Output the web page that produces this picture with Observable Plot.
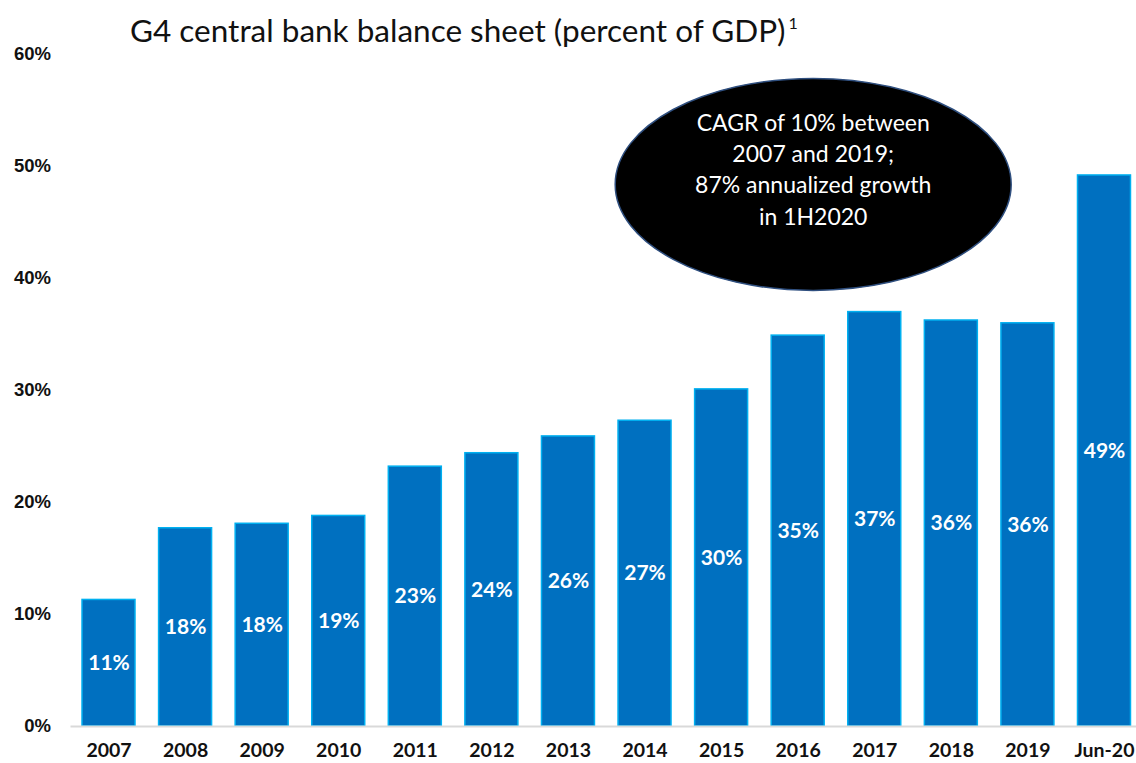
<!DOCTYPE html>
<html>
<head>
<meta charset="utf-8">
<script src="https://cdn.jsdelivr.net/npm/d3@7"></script>
<script src="https://cdn.jsdelivr.net/npm/@observablehq/plot@0.6"></script>
<style>
  html, body { margin: 0; padding: 0; background: #fff; }
  #wrap { position: relative; width: 1136px; height: 763px; }
  #title { position: absolute; left: 130px; top: 15px; font-family: Lato, "Open Sans", sans-serif; font-size: 31.5px; line-height: 1; color: #111; white-space: nowrap; }
  #title sup { font-size: 16px; vertical-align: 0; position: relative; top: -13px; margin-left: 3px; }
</style>
</head>
<body>
<div id="wrap">
  <div id="title">G4 central bank balance sheet (percent of GDP)<sup>1</sup></div>
</div>
<script>
const categories = ["2007","2008","2009","2010","2011","2012","2013","2014","2015","2016","2017","2018","2019","Jun-20"];
const values = [11.3, 17.7, 18.1, 18.8, 23.2, 24.4, 25.9, 27.3, 30.1, 34.9, 37.0, 36.25, 36.0, 49.2];
const barLabels = ["11%","18%","18%","19%","23%","24%","26%","27%","30%","35%","37%","36%","36%","49%"];
const yTicks = [0, 10, 20, 30, 40, 50, 60];
const yTickLabels = ["0%","10%","20%","30%","40%","50%","60%"];
const noteLines = ["CAGR of 10% between", "2007 and 2019;", "87% annualized growth", "in 1H2020"];

const data = categories.map((c, i) => ({cat: c, value: values[i], label: barLabels[i]}));

// ellipse-shaped symbol for the callout (drawn with bezier curves)
const ellipseSymbol = {
  draw(ctx) {
    const rx = 198, ry = 106, k = 0.5523;
    ctx.moveTo(rx, 0);
    ctx.bezierCurveTo(rx, ry * k, rx * k, ry, 0, ry);
    ctx.bezierCurveTo(-rx * k, ry, -rx, ry * k, -rx, 0);
    ctx.bezierCurveTo(-rx, -ry * k, -rx * k, -ry, 0, -ry);
    ctx.bezierCurveTo(rx * k, -ry, rx, -ry * k, rx, 0);
    ctx.closePath();
  }
};

const chart = Plot.plot({
  width: 1136,
  height: 763,
  marginLeft: 76.5,
  marginRight: 0,
  marginTop: 54,
  marginBottom: 37,
  style: {fontFamily: "Lato, sans-serif", color: "#111", background: "transparent"},
  x: {domain: categories, paddingInner: 0.308, paddingOuter: 0.072, round: false, label: null},
  y: {domain: [0, 60], label: null},
  marks: [
    Plot.barY(data, {x: "cat", y: "value", fill: "#0070c0", stroke: "#00b0f0", strokeWidth: 1.5}),
    Plot.ruleY([0], {stroke: "#d9d9d9", strokeWidth: 2, insetLeft: -6}),
    Plot.text(data, {x: "cat", y: d => d.value / 2, text: "label", fill: "white", fontSize: 21, fontWeight: "bold", fontFamily: "Lato, sans-serif"}),
    Plot.axisX({tickSize: 0, tickPadding: 17, fontSize: 19.5, fontWeight: "bold", fontFamily: "Lato, sans-serif", label: null}),
    Plot.axisY({ticks: yTicks, tickFormat: (d, i) => yTickLabels[i], tickSize: 0, tickPadding: 26, fontSize: 18.5, fontWeight: "bold", fontFamily: "'Liberation Sans', Arial, sans-serif", label: null}),
    Plot.dot([{cat: "2016", v: 48.4}], {x: "cat", y: "v", dx: 15, symbol: ellipseSymbol, r: 10, fill: "black", stroke: "#2f4f7f", strokeWidth: 1.5}),
    Plot.text([noteLines.join("\n")], {x: () => "2016", y: () => 49.9, dx: 15, text: d => d, fill: "white", fontSize: 23, lineHeight: 1.36, fontFamily: "Lato, sans-serif"})
  ]
});
document.getElementById("wrap").prepend(chart);
chart.style.position = "absolute";
chart.style.left = "0";
chart.style.top = "0";
</script>
</body>
</html>
